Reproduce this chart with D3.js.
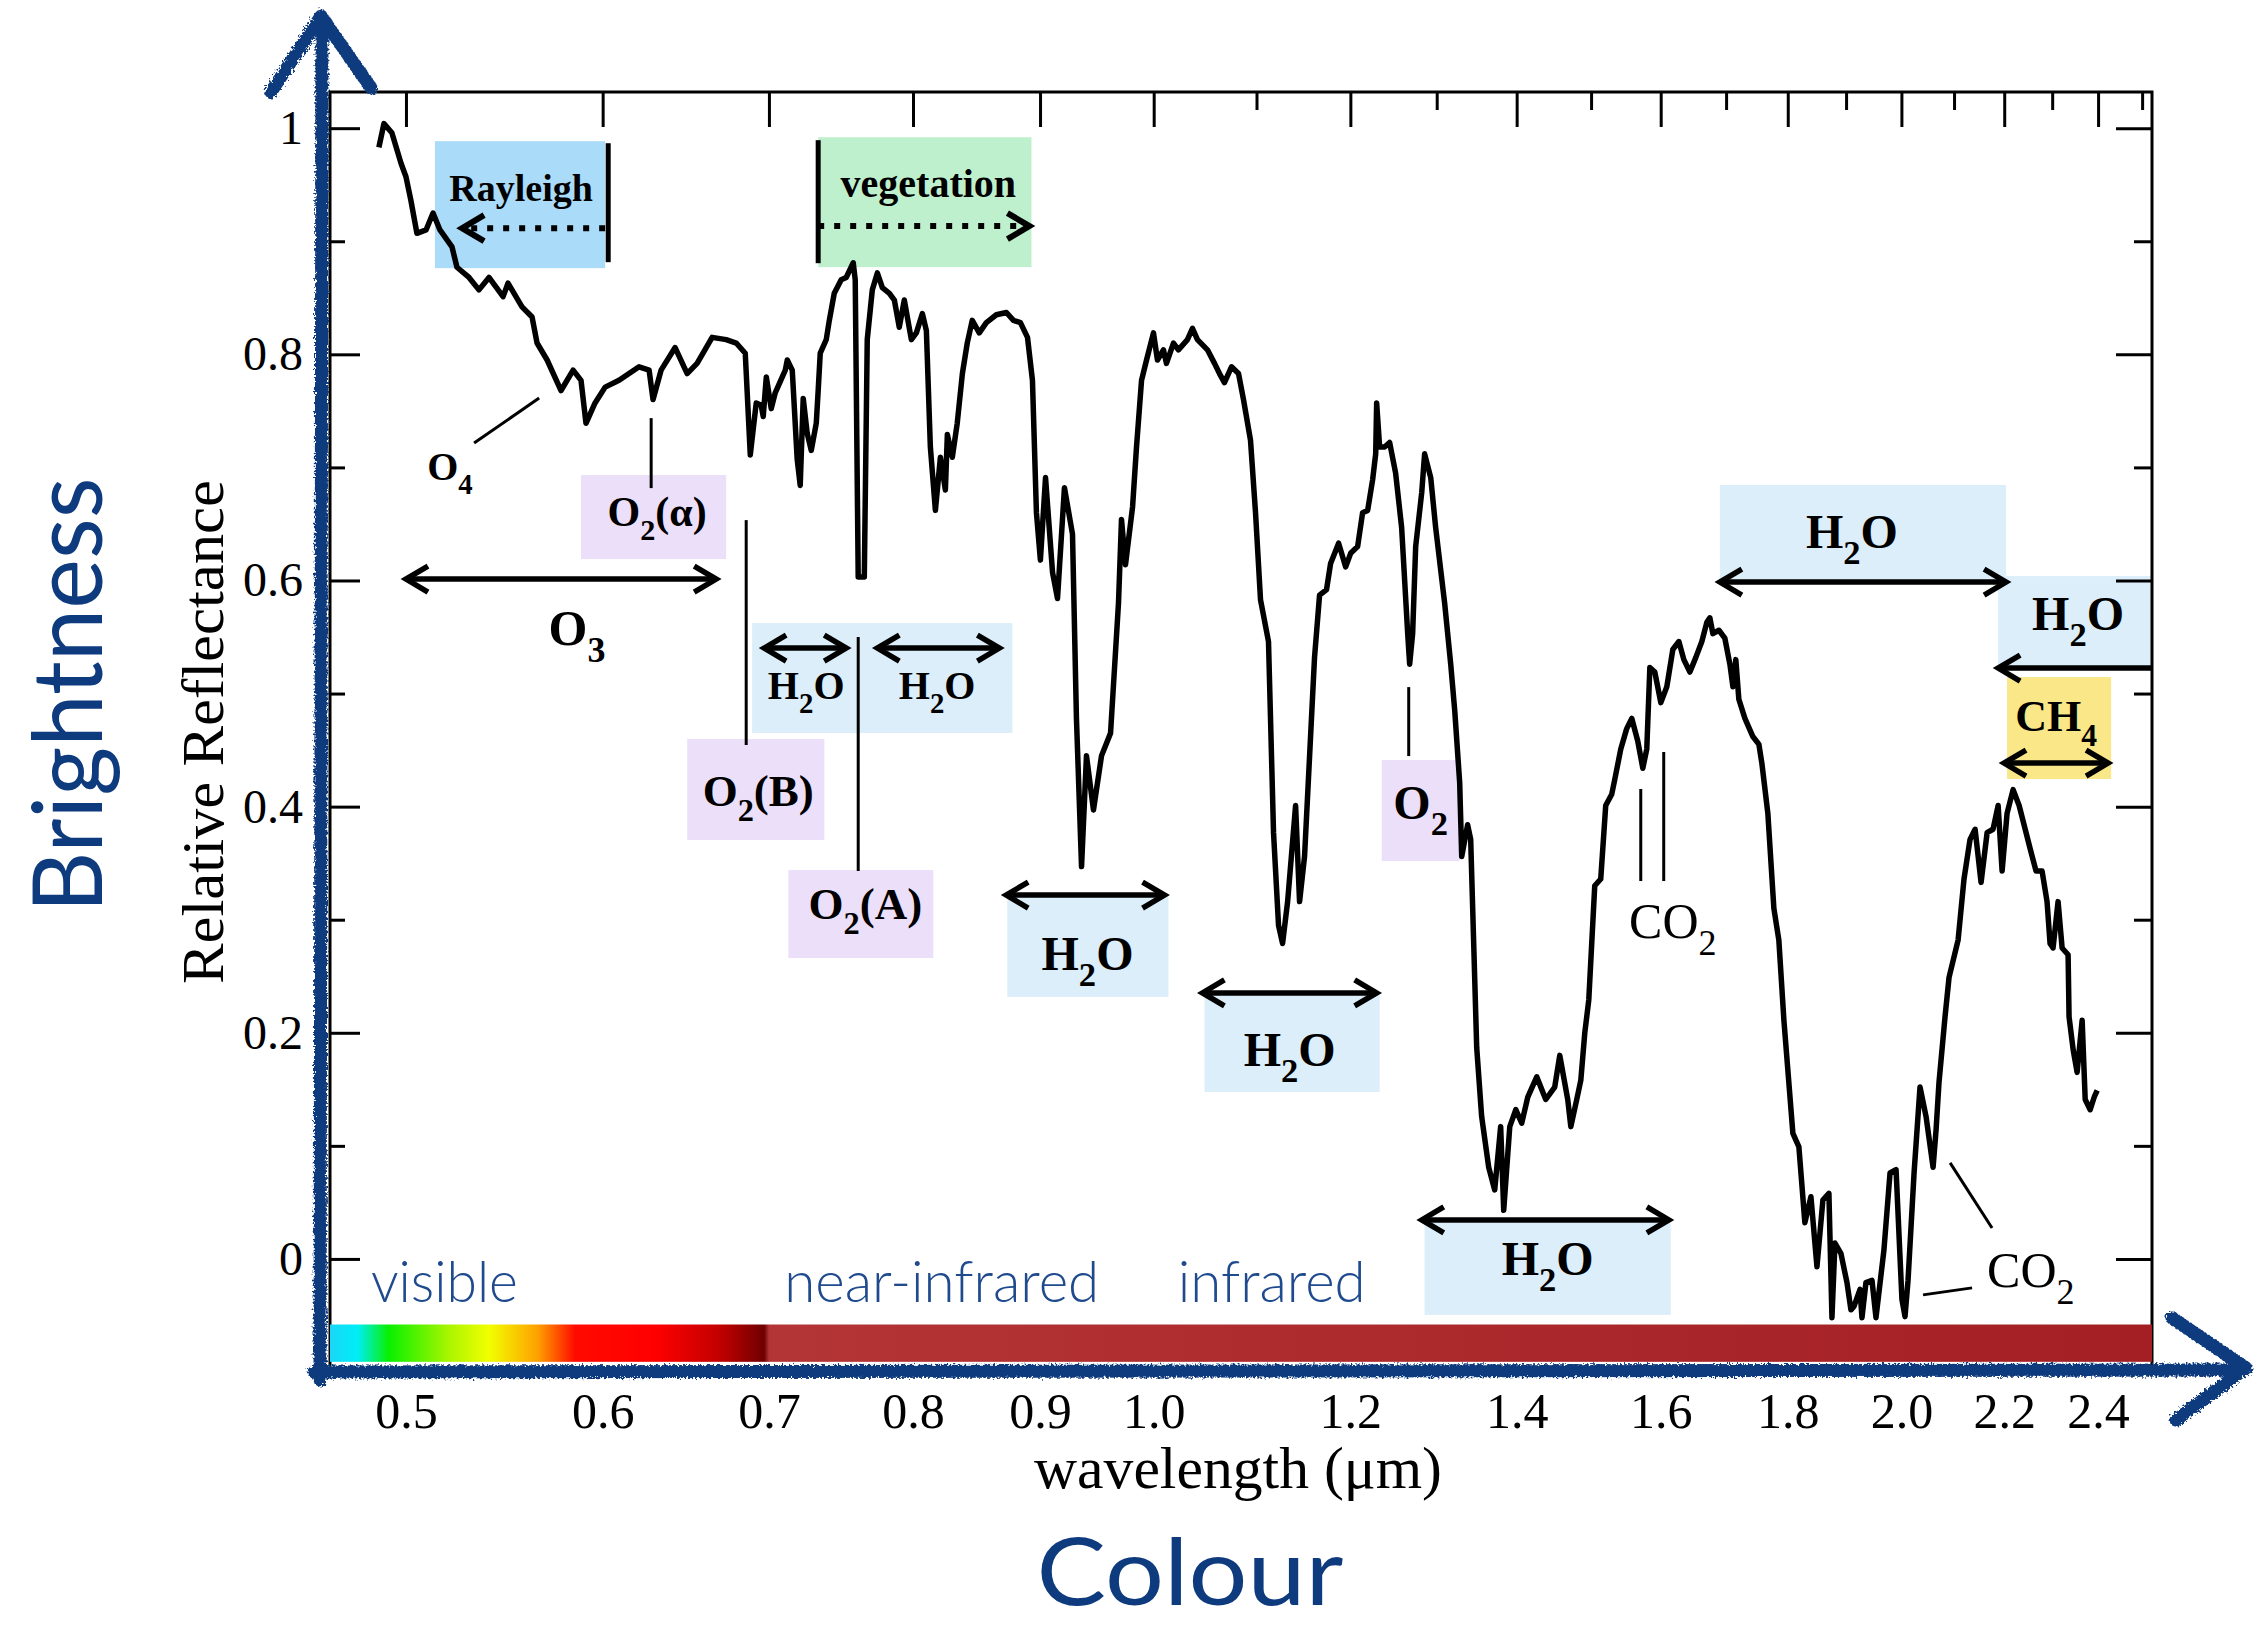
<!DOCTYPE html>
<html>
<head>
<meta charset="utf-8">
<script src="https://cdn.jsdelivr.net/npm/d3@7"></script>
<style>
body{margin:0;background:#fff;}
svg{display:block;}
text{font-family:"Liberation Serif","Times New Roman",serif;}
</style>
</head>
<body>
<svg id="chart"></svg>
<script>
// spectrum (wavelength in um, relative reflectance)
var wavelength=[0.4876,0.4899,0.4935,0.4977,0.5000,0.5023,0.5051,0.5094,0.5127,0.5160,0.5218,0.5242,0.5301,0.5350,0.5400,0.5471,0.5496,0.5568,0.5620,0.5646,
0.5699,0.5773,0.5838,0.5881,0.5908,0.5958,0.6014,0.6092,0.6206,0.6264,0.6287,0.6334,0.6417,0.6489,0.6549,0.6641,0.6728,0.6791,0.6848,0.6880,
0.6918,0.6950,0.6963,0.6983,0.7015,0.7041,0.7107,0.7120,0.7153,0.7186,0.7206,0.7226,0.7253,0.7280,0.7314,0.7327,0.7341,0.7382,0.7403,0.7437,
0.7485,0.7520,0.7569,0.7583,0.7604,0.7647,0.7668,0.7704,0.7740,0.7776,0.7827,0.7863,0.7899,0.7936,0.7988,0.8025,0.8070,0.8100,0.8130,0.8168,
0.8206,0.8244,0.8259,0.8297,0.8335,0.8375,0.8413,0.8452,0.8507,0.8563,0.8643,0.8724,0.8781,0.8838,0.8896,0.8937,0.8970,0.9003,0.9046,0.9105,
0.9147,0.9206,0.9275,0.9309,0.9353,0.9396,0.9457,0.9528,0.9608,0.9679,0.9706,0.9742,0.9806,0.9842,0.9888,0.9934,0.9998,1.0035,1.0091,1.0119,
1.0185,1.0232,1.0318,1.0366,1.0414,1.0511,1.0580,1.0629,1.0678,1.0748,1.0818,1.0868,1.0939,1.0990,1.1041,1.1123,1.1175,1.1227,1.1269,1.1322,
1.1406,1.1448,1.1501,1.1555,1.1608,1.1662,1.1738,1.1782,1.1870,1.1948,1.2003,1.2081,1.2137,1.2194,1.2250,1.2285,1.2296,1.2330,1.2387,1.2445,
1.2514,1.2584,1.2655,1.2678,1.2713,1.2749,1.2821,1.2855,1.2928,1.2987,1.3096,1.3170,1.3219,1.3280,1.3305,1.3378,1.3416,1.3491,1.3553,1.3642,
1.3718,1.3794,1.3833,1.3911,1.3989,1.4066,1.4145,1.4263,1.4383,1.4503,1.4571,1.4679,1.4721,1.4802,1.4858,1.4913,1.4968,1.5051,1.5135,1.5205,
1.5290,1.5333,1.5419,1.5504,1.5577,1.5663,1.5737,1.5795,1.5840,1.5913,1.6002,1.6091,1.6181,1.6272,1.6347,1.6439,1.6530,1.6622,1.6699,1.6746,
1.6793,1.6887,1.6980,1.7060,1.7108,1.7154,1.7202,1.7299,1.7427,1.7525,1.7574,1.7671,1.7770,1.7852,1.7936,1.8086,1.8187,1.8288,1.8391,1.8494,
1.8596,1.8700,1.8753,1.8805,1.8909,1.9016,1.9086,1.9140,1.9247,1.9282,1.9353,1.9462,1.9534,1.9679,1.9790,1.9901,2.0010,2.0067,2.0123,2.0236,
2.0348,2.0462,2.0596,2.0653,2.0709,2.0825,2.0903,2.1079,2.1195,2.1314,2.1414,2.1533,2.1654,2.1773,2.1876,2.1957,2.2058,2.2182,2.2306,2.2408,
2.2534,2.2659,2.2786,2.2891,2.2955,2.3019,2.3126,2.3213,2.3342,2.3363,2.3452,2.3538,2.3648,2.3715,2.3825,2.3913,2.3980];
var reflectance=[0.983,1.004,0.996,0.969,0.957,0.936,0.907,0.910,0.925,0.910,0.895,0.877,0.868,0.857,0.868,0.851,0.863,0.842,0.833,0.810,
0.795,0.768,0.786,0.777,0.739,0.757,0.771,0.777,0.789,0.786,0.760,0.786,0.806,0.783,0.792,0.815,0.813,0.810,0.801,0.711,
0.757,0.755,0.745,0.780,0.752,0.766,0.786,0.795,0.786,0.707,0.684,0.761,0.730,0.715,0.739,0.768,0.801,0.813,0.830,0.854,
0.866,0.868,0.881,0.866,0.603,0.603,0.813,0.857,0.872,0.859,0.854,0.848,0.824,0.848,0.813,0.819,0.836,0.821,0.718,0.662,
0.709,0.680,0.729,0.709,0.739,0.783,0.810,0.830,0.819,0.828,0.835,0.837,0.830,0.828,0.815,0.777,0.660,0.618,0.691,0.607,
0.584,0.682,0.641,0.478,0.347,0.445,0.397,0.445,0.465,0.580,0.654,0.614,0.665,0.718,0.777,0.795,0.819,0.795,0.804,0.792,
0.810,0.804,0.813,0.823,0.813,0.804,0.792,0.783,0.775,0.789,0.783,0.760,0.724,0.660,0.583,0.546,0.377,0.295,0.279,0.316,
0.401,0.316,0.356,0.445,0.532,0.587,0.592,0.615,0.633,0.612,0.624,0.630,0.660,0.662,0.689,0.712,0.757,0.718,0.718,0.722,
0.695,0.647,0.553,0.526,0.553,0.630,0.678,0.712,0.691,0.647,0.580,0.526,0.485,0.421,0.356,0.384,0.371,0.187,0.126,0.081,
0.061,0.117,0.043,0.117,0.132,0.120,0.143,0.161,0.141,0.152,0.180,0.141,0.117,0.141,0.158,0.200,0.229,0.330,0.336,0.401,
0.411,0.424,0.451,0.469,0.478,0.458,0.434,0.451,0.523,0.519,0.492,0.506,0.539,0.546,0.530,0.519,0.532,0.546,0.563,0.567,
0.553,0.556,0.549,0.526,0.506,0.530,0.495,0.478,0.462,0.455,0.438,0.394,0.310,0.282,0.211,0.111,0.099,0.032,0.055,-0.007,
0.052,0.058,-0.052,0.014,0.005,-0.021,-0.045,-0.042,-0.027,-0.052,-0.021,-0.019,-0.052,0.008,0.076,0.079,-0.036,-0.051,-0.019,0.076,
0.152,0.126,0.081,0.114,0.156,0.214,0.249,0.282,0.336,0.371,0.380,0.333,0.377,0.380,0.401,0.343,0.394,0.415,0.401,0.384,
0.363,0.343,0.343,0.316,0.279,0.275,0.316,0.275,0.269,0.214,0.185,0.165,0.211,0.141,0.132,0.143,0.149];

var xTicks=[0.5,0.6,0.7,0.8,0.9,1.0,1.2,1.4,1.6,1.8,2.0,2.2,2.4];
var xLabels=["0.5","0.6","0.7","0.8","0.9","1.0","1.2","1.4","1.6","1.8","2.0","2.2","2.4"];
var xMinor=[1.1,1.3,1.5,1.7,1.9,2.1,2.3,2.5];
var yTicks=[0,0.2,0.4,0.6,0.8,1];
var yLabels=["0","0.2","0.4","0.6","0.8","1"];
var yMinor=[0.1,0.3,0.5,0.7,0.9];

// absorption bands: boxes [w0,w1,rTop,rBottom,kind]
var bandBoxes=[
  [0.5136,0.6014,0.9885,0.8762,"ray"],
  [0.7327,0.8929,0.9920,0.8771,"veg"],
  [0.5881,0.6728,0.6932,0.6189,"o2"],
  [0.6489,0.7369,0.4598,0.3705,"o2"],
  [0.6892,0.8772,0.5623,0.4651,"h2o"],
  [0.7127,0.8152,0.3439,0.2661,"o2"],
  [0.8731,1.0138,0.3210,0.2317,"h2o"],
  [1.0482,1.2330,0.2361,0.1477,"h2o"],
  [1.2354,1.3280,0.4412,0.3519,"o2"],
  [1.2855,1.6150,0.0318,-0.0495,"h2o"],
  [1.6902,2.2038,0.6844,0.5968,"h2o"],
  [2.1876,2.523,0.6039,0.5225,"h2o"],
  [2.2058,2.4292,0.5146,0.4244,"ch4"]
];
// arrows [w0,w1,r,heads,dotted]
var bandArrows=[
  [0.6014,0.5267,0.9116,"end",true],
  [0.7327,0.8912,0.9134,"end",true],
  [0.5000,0.6666,0.6012,"both",false],
  [0.6969,0.7520,0.5402,"both",false],
  [0.7740,0.8667,0.5402,"both",false],
  [0.8722,1.0101,0.3218,"both",false],
  [1.0462,1.2296,0.2352,"both",false],
  [1.2821,1.6122,0.0345,"both",false],
  [1.6902,2.2038,0.5986,"both",false],
  [2.523,2.1876,0.5225,"end",false],
  [2.1996,2.4224,0.4385,"both",false]
];
// leader lines [w0,r0,w1,r1]
var leaders=[
  [0.5326,0.7215,0.5657,0.7613],
  [0.6276,0.7436,0.6276,0.6817],
  [0.6854,0.6534,0.6854,0.4545],
  [0.7604,0.5500,0.7604,0.3431],
  [1.2667,0.5057,1.2667,0.4447],
  [1.5707,0.4156,1.5707,0.3342],
  [1.6045,0.4483,1.6045,0.3342],
  [2.0924,0.0849,2.1753,0.0274],
  [2.0405,-0.0318,2.1354,-0.0256]
];
// heavy end bars [w,rTop,rBottom]
var endBars=[[0.6031,0.9867,0.8815],[0.7327,0.9894,0.8806]];
// labels: [parts, w, r, size, bold, anchor]  parts "_x" = subscript
var bandLabels=[
  [["Rayleigh"],0.5563,0.9355,38,true,"middle"],
  [["vegetation"],0.8115,0.9390,40,true,"middle"],
  [["O","_4"],0.5208,0.6888,40,true,"middle"],
  [["O","_2","(\u03b1)"],0.6311,0.6481,42,true,"middle"],
  [["O","_3"],0.5859,0.5429,50,true,"middle"],
  [["O","_2","(B)"],0.6931,0.4005,45,true,"middle"],
  [["H","_2","O"],0.7246,0.4951,40,true,"middle"],
  [["H","_2","O"],0.8181,0.4951,40,true,"middle"],
  [["O","_2","(A)"],0.7654,0.3006,45,true,"middle"],
  [["H","_2","O"],0.9405,0.2555,48,true,"middle"],
  [["H","_2","O"],1.1343,0.1706,48,true,"middle"],
  [["O","_2"],1.2808,0.3890,48,true,"middle"],
  [["CO","_2"],1.6181,0.2838,50,false,"middle"],
  [["H","_2","O"],1.9104,0.6286,48,true,"middle"],
  [["H","_2","O"],2.3559,0.5561,48,true,"middle"],
  [["CH","_4"],2.3083,0.4668,44,true,"middle"],
  [["CO","_2"],2.1654,-0.0248,50,false,"start"],
  [["H","_2","O"],1.4409,-0.0141,48,true,"middle"]
];
var regionNames=["visible","near-infrared","infrared"];
var regionStart=[0.4840,0.7100,1.0225];
var regionWidth=[147,315,188];

var specW=[0.466,0.478,0.492,0.52,0.540,0.565,0.585,0.630,0.668,0.697,0.7001,1.2,2.523];
var specC=["#1ad6f5","#00eef8","#08f000","#a8f500","#f2ff00","#ffa000","#ff0a00","#ff0000","#c40000","#700000","#b43535","#ad2a2d","#a31f24"];

var fills={ray:"#aadbf8",veg:"#bff0cd",o2:"#ecdffa",h2o:"#dbeefa",ch4:"#f9e788"};
var blue="#0e3a7e";
var sans="Lato, 'Open Sans', sans-serif";

var screen={width:2254,height:1629};
var margin={top:92,left:330};
var width=1822;
var height=1280;

var svg=d3.select("#chart")
          .attr("width",screen.width)
          .attr("height",screen.height);

var xscale=d3.scaleLog()
             .domain([0.466,2.523])
             .range([0,width]);
var yscale=d3.scaleLinear()
             .domain([-0.1,1.032])
             .range([height,0]);

var defs=svg.append("defs");
var grad=defs.append("linearGradient")
             .attr("id","spec")
             .attr("gradientUnits","userSpaceOnUse")
             .attr("x1",xscale(specW[0])).attr("x2",xscale(specW[specW.length-1]))
             .attr("y1",0).attr("y2",0);
specW.forEach(function(w,i){
  grad.append("stop")
      .attr("offset",(xscale(w)-xscale(specW[0]))/(xscale(specW[specW.length-1])-xscale(specW[0])))
      .attr("stop-color",specC[i]);
});
var rough=defs.append("filter").attr("id","rough").attr("x","-5%").attr("y","-5%").attr("width","110%").attr("height","110%");
rough.append("feTurbulence").attr("type","fractalNoise").attr("baseFrequency",0.45).attr("numOctaves",2).attr("result","n");
rough.append("feDisplacementMap").attr("in","SourceGraphic").attr("in2","n").attr("scale",7);

var plot=svg.append("g")
            .attr("transform","translate("+margin.left+","+margin.top+")");

// band boxes
plot.selectAll("rect.band")
    .data(bandBoxes)
    .enter()
    .append("rect")
    .classed("band",true)
    .attr("x",function(d){return xscale(d[0]);})
    .attr("y",function(d){return yscale(d[2]);})
    .attr("width",function(d){return xscale(d[1])-xscale(d[0]);})
    .attr("height",function(d){return yscale(d[3])-yscale(d[2]);})
    .attr("fill",function(d){return fills[d[4]];});

// frame
plot.append("rect")
    .attr("x",0).attr("y",0)
    .attr("width",width).attr("height",height)
    .attr("fill","none")
    .attr("stroke","#000")
    .attr("stroke-width",3);

// axes
var styleAxis=function(g){
  g.select(".domain").remove();
  g.selectAll("line").attr("stroke","#000").attr("stroke-width",3);
};
plot.append("g")
    .call(d3.axisTop(xscale).tickValues(xTicks).tickSize(-35).tickFormat(""))
    .call(styleAxis);
plot.append("g")
    .call(d3.axisTop(xscale).tickValues(xMinor).tickSize(-18).tickFormat(""))
    .call(styleAxis);
var yAxis=plot.append("g")
    .call(d3.axisLeft(yscale).tickValues(yTicks).tickSize(-30).tickPadding(27)
            .tickFormat(function(d,i){return yLabels[i];}))
    .call(styleAxis);
yAxis.selectAll("text")
     .attr("font-size",48)
     .attr("fill","#000");
plot.append("g")
    .call(d3.axisLeft(yscale).tickValues(yMinor).tickSize(-15).tickFormat(""))
    .call(styleAxis);
plot.append("g")
    .attr("transform","translate("+width+",0)")
    .call(d3.axisRight(yscale).tickValues(yTicks).tickSize(-36).tickFormat(""))
    .call(styleAxis);
plot.append("g")
    .attr("transform","translate("+width+",0)")
    .call(d3.axisRight(yscale).tickValues(yMinor).tickSize(-18).tickFormat(""))
    .call(styleAxis);

// spectrum
var points=wavelength.map(function(w,i){return [w,reflectance[i]];});
var line=d3.line()
           .x(function(d){return xscale(d[0]);})
           .y(function(d){return yscale(d[1]);});
plot.append("path")
    .datum(points)
    .attr("d",line)
    .attr("fill","none")
    .attr("stroke","#000")
    .attr("stroke-width",5.5)
    .attr("stroke-linejoin","round");

// leader lines
plot.selectAll("line.leader")
    .data(leaders)
    .enter()
    .append("line")
    .classed("leader",true)
    .attr("x1",function(d){return xscale(d[0]);})
    .attr("y1",function(d){return yscale(d[1]);})
    .attr("x2",function(d){return xscale(d[2]);})
    .attr("y2",function(d){return yscale(d[3]);})
    .attr("stroke","#000")
    .attr("stroke-width",3);

plot.selectAll("line.endbar")
    .data(endBars)
    .enter()
    .append("line")
    .classed("endbar",true)
    .attr("x1",function(d){return xscale(d[0]);})
    .attr("x2",function(d){return xscale(d[0]);})
    .attr("y1",function(d){return yscale(d[1]);})
    .attr("y2",function(d){return yscale(d[2]);})
    .attr("stroke","#000")
    .attr("stroke-width",5);

// arrows
var chevron=function(xh,yy,dir,sw){
  plot.append("path")
      .attr("d","M"+(xh+dir*22)+","+(yy-13)+"L"+xh+","+yy+"L"+(xh+dir*22)+","+(yy+13))
      .attr("fill","none")
      .attr("stroke","#000")
      .attr("stroke-width",sw)
      .attr("stroke-linejoin","miter");
};
bandArrows.forEach(function(a){
  var x0=xscale(a[0]),x1=xscale(a[1]),yy=yscale(a[2]);
  var sw=a[4]?6:5.5;
  var s=Math.sign(x1-x0);
  var l=plot.append("line")
      .attr("x1",x0).attr("x2",x1-(a[4]?s*8:0))
      .attr("y1",yy).attr("y2",yy)
      .attr("stroke","#000")
      .attr("stroke-width",sw);
  if(a[4]) l.attr("stroke-dasharray","6,10");
  chevron(x1,yy,-s,sw);
  if(a[3]==="both") chevron(x0,yy,s,sw);
});

// labels with subscripts
var addLabel=function(g,parts,size){
  var shift=0;
  parts.forEach(function(p){
    var sub=p.charAt(0)==="_";
    var t=g.append("tspan")
           .text(sub?p.slice(1):p)
           .attr("font-size",sub?size*0.72:size);
    var dy=sub?size*0.34:-shift;
    if(dy!==0) t.attr("dy",dy);
    shift=sub?size*0.34:0;
  });
};
bandLabels.forEach(function(l){
  var t=plot.append("text")
            .attr("x",xscale(l[1]))
            .attr("y",yscale(l[2]))
            .attr("text-anchor",l[5])
            .attr("font-weight",l[4]?"bold":"normal")
            .attr("font-size",l[3])
            .attr("fill","#000");
  addLabel(t,l[0],l[3]);
});

// colour bar
plot.append("rect")
    .attr("x",0)
    .attr("y",yscale(-0.058))
    .attr("width",width)
    .attr("height",yscale(-0.091)-yscale(-0.058))
    .attr("fill","url(#spec)");

plot.selectAll("text.region")
    .data(regionNames)
    .enter()
    .append("text")
    .classed("region",true)
    .attr("x",function(d,i){return xscale(regionStart[i]);})
    .attr("y",yscale(-0.038))
    .style("font-family",sans)
    .style("font-weight",300)
    .attr("font-size",58)
    .attr("fill","#1f4a8e")
    .attr("textLength",function(d,i){return regionWidth[i];})
    .attr("lengthAdjust","spacingAndGlyphs")
    .text(function(d){return d;});

// bottom tick labels
var xAxis=plot.append("g")
    .attr("transform","translate(0,"+height+")")
    .call(d3.axisBottom(xscale).tickValues(xTicks).tickSize(0).tickPadding(20.5)
            .tickFormat(function(d,i){return xLabels[i];}));
xAxis.select(".domain").remove();
xAxis.selectAll("text")
     .attr("font-size",50)
     .attr("fill","#000");

// axis titles
svg.append("text")
   .attr("transform","translate(223,732) rotate(-90)")
   .attr("text-anchor","middle")
   .attr("font-size",59)
   .attr("textLength",504)
   .attr("lengthAdjust","spacingAndGlyphs")
   .text("Relative Reflectance");
svg.append("text")
   .attr("x",1238).attr("y",1488)
   .attr("text-anchor","middle")
   .attr("font-size",60)
   .attr("textLength",408)
   .attr("lengthAdjust","spacingAndGlyphs")
   .text("wavelength (\u03bcm)");

// hand drawn arrows
var hand=svg.append("g")
            .attr("filter","url(#rough)")
            .attr("fill","none")
            .attr("stroke",blue)
            .attr("stroke-width",13)
            .attr("stroke-linecap","round")
            .attr("stroke-linejoin","round");
hand.append("path").attr("d","M320,1380L322,22");
hand.append("path").attr("d","M271,92L321,16L371,88");
hand.append("path").attr("d","M314,1372L2238,1370");
hand.append("path").attr("d","M2172,1318L2246,1368L2176,1420");

svg.append("text")
   .attr("transform","translate(102,695) rotate(-90)")
   .attr("text-anchor","middle")
   .style("font-family",sans)
   .attr("font-size",96)
   .attr("fill",blue)
   .attr("textLength",435)
   .attr("lengthAdjust","spacingAndGlyphs")
   .text("Brightness");
svg.append("text")
   .attr("x",1190).attr("y",1605)
   .attr("text-anchor","middle")
   .style("font-family",sans)
   .attr("font-size",94)
   .attr("fill",blue)
   .attr("textLength",307)
   .attr("lengthAdjust","spacingAndGlyphs")
   .text("Colour");
</script>
</body>
</html>
